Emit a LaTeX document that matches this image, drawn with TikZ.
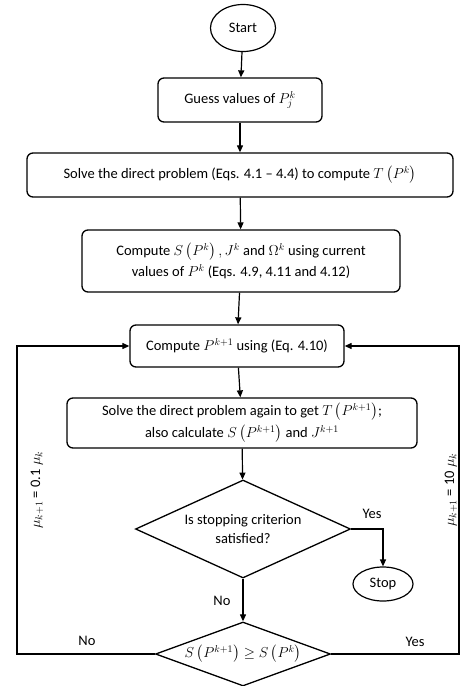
\documentclass[tikz,border=0pt]{standalone}
\usepackage{amsmath}
\usepackage{amssymb}
\usepackage{fontspec}
\setmainfont{Carlito}
\usepackage{tikz}
\usetikzlibrary{arrows.meta, shapes.geometric, positioning}

\begin{document}
\begin{tikzpicture}[x=1pt, y=-1pt, >={Triangle[length=7pt,width=6pt]},
    font=\fontsize{14.5}{19}\selectfont,
    box/.style={draw, line width=1.3pt, rounded corners=6pt, align=center, inner sep=2pt},
    term/.style={draw, ellipse, line width=1.2pt, inner sep=0pt},
    decide/.style={draw, diamond, line width=1.3pt, inner sep=0pt, align=center},
    flow/.style={->, line width=1.2pt}]
  \useasboundingbox (0,0) rectangle (460,686);

  % Main column
  \node[term, minimum width=65pt, minimum height=47pt] (start) at (243,28) {Start};
  \node[box, minimum width=164pt, minimum height=44pt] (guess) at (240,100)
    {Guess values of $P_{j}^{k}$};
  \node[box, minimum width=426pt, minimum height=44pt] (solve) at (240,175)
    {Solve the direct problem (Eqs. 4.1 -- 4.4) to compute $T\left(P^{k}\right)$};
  \node[box, minimum width=318pt, minimum height=62pt] (comp) at (241,261)
    {Compute $S\left(P^{k}\right), J^{k}\ \mathrm{and}\ \Omega^{k}$ using current\\[2pt]
     values of $P^{k}$ (Eqs. 4.9, 4.11 and 4.12)};
  \node[box, minimum width=214pt, minimum height=42pt] (update) at (237,346)
    {Compute $P^{k+1}$ using (Eq. 4.10)};
  \node[box, minimum width=350pt, minimum height=50pt] (again) at (242,423)
    {Solve the direct problem again to get $T\left(P^{k+1}\right)$;\\[3pt]
     also calculate $S\left(P^{k+1}\right)$ and $J^{k+1}$};

  % Decisions
  \node[decide, aspect=2.2, minimum width=215pt, minimum height=98pt] (crit) at (243,529)
    {Is stopping criterion\\ satisfied?};
  \node[term, minimum width=60pt, minimum height=34pt] (stop) at (383,584) {Stop};
  \node[decide, aspect=2.7, minimum width=175pt, minimum height=64pt] (cmp) at (243,654)
    {$S\left(P^{k+1}\right)\geq S\left(P^{k}\right)$};

  % Loop corners
  \coordinate (lc) at (17,346);
  \coordinate (rc) at (459,346);

  % Connectors
  \draw[flow] (start) -- (guess);
  \draw[flow] (guess) -- (solve);
  \draw[flow] (solve) -- (comp);
  \draw[flow] (comp) -- (update);
  \draw[flow] (update) -- (again);
  \draw[flow] (again) -- (crit);
  \draw[flow] (crit.east) -| (stop.north);
  \draw[flow] (crit) -- (cmp);
  \draw[flow] (cmp.west) -| (lc) -- (update.west);
  \draw[flow] (cmp.east) -| (rc) -- (update.east);

  % Labels
  \node (yes1) at (372,514) {Yes};
  \node (no1) at (222,601) {No};
  \node (no2) at (87,641) {No};
  \node (yes2) at (415,642) {Yes};
  \node[rotate=90] (mudown) at (37,490) {$\mu_{k+1}$ = 0.1 $\mu_k$};
  \node[rotate=90] (muup) at (451,490) {$\mu_{k+1}$ = 10 $\mu_k$};
\end{tikzpicture}
\end{document}
